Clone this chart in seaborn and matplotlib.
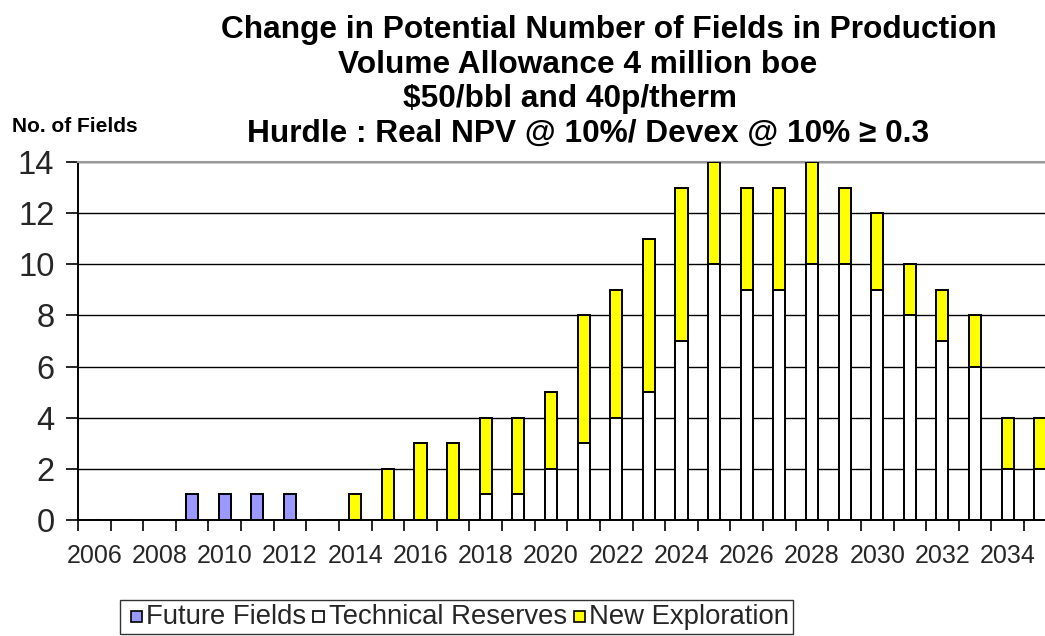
import matplotlib
matplotlib.use("Agg")
import matplotlib.pyplot as plt
from matplotlib.patches import Patch, Rectangle
from matplotlib.legend_handler import HandlerPatch
import numpy as np
import pandas as pd
import seaborn as sns

# Fields in production per year, by source
years = list(range(2006, 2036))
future_fields = [0, 0, 0, 1, 1, 1, 1, 0, 0, 0, 0, 0, 0, 0, 0,
                 0, 0, 0, 0, 0, 0, 0, 0, 0, 0, 0, 0, 0, 0, 0]
technical_reserves = [0, 0, 0, 0, 0, 0, 0, 0, 0, 0, 0, 0, 1, 1, 2,
                      3, 4, 5, 7, 10, 9, 9, 10, 10, 9, 8, 7, 6, 2, 2]
new_exploration = [0, 0, 0, 0, 0, 0, 0, 0, 1, 2, 3, 3, 3, 3, 3,
                   5, 5, 6, 6, 4, 4, 4, 4, 3, 3, 2, 2, 2, 2, 2]

title_lines = [
    "Change in Potential Number of Fields in Production",
    "Volume Allowance 4 million boe",
    "$50/bbl and 40p/therm",
    "Hurdle : Real NPV @ 10%/ Devex @ 10% \u2265 0.3",
]
y_ticks = [0, 2, 4, 6, 8, 10, 12, 14]

sns.set_theme(style="white")
plt.rcParams["font.family"] = ["Liberation Sans", "DejaVu Sans"]

df = pd.DataFrame({
    "year": [str(y) for y in years],
    "ff": future_fields,
    "tr": technical_reserves,
    "ne": new_exploration,
})
df["lower"] = df["ff"] + df["tr"]
df["total"] = df["lower"] + df["ne"]

W, H = 1045, 636
fig = plt.figure(figsize=(W / 100, H / 100), dpi=100)
ax_left, ax_right = 78, 1056.6
ax_top, ax_bottom = 162, 520
ax = fig.add_axes([ax_left / W, 1 - ax_bottom / H,
                   (ax_right - ax_left) / W, (ax_bottom - ax_top) / H])

bar_kw = dict(edgecolor="black", linewidth=1.4, width=0.37, ax=ax,
              order=df["year"].tolist(), zorder=3, saturation=1)
# Stack built by layering: full total (yellow), then lower part, then future fields
sns.barplot(data=df, x="year", y="total", color="#FFFF00", **bar_kw)
sns.barplot(data=df, x="year", y="lower", color="white", **bar_kw)
sns.barplot(data=df, x="year", y="ff", color="#9999FF", **bar_kw)

ax.set_xlim(-0.5, len(years) - 0.5)
ax.set_ylim(0, 14)
ax.set_xlabel("")
ax.set_ylabel("")

# Category boundaries carry the tick marks; labels sit at every other category centre
ax.set_xticks(np.arange(-0.5, len(years), 1.0))
ax.set_xticklabels([])
ax.tick_params(axis="x", which="major", length=8, width=1.2, color="black",
               direction="out", bottom=True)
ax.set_xticks(np.arange(0, len(years), 2), minor=True)
ax.set_xticklabels([str(y) for y in years[::2]], minor=True, fontsize=18)
ax.tick_params(axis="x", which="minor", length=0, pad=17)

ax.set_yticks(y_ticks)
ax.set_yticklabels([str(v) for v in y_ticks], fontsize=23.5)
ax.tick_params(axis="y", length=9, width=1.2, color="black", direction="out",
               left=True, pad=8)

ax.yaxis.grid(True, color="black", linewidth=1.0, zorder=0)
ax.set_axisbelow(True)
for s in ["left", "bottom"]:
    ax.spines[s].set_color("black")
    ax.spines[s].set_linewidth(1.4)
ax.spines["top"].set_color("#999999")
ax.spines["top"].set_linewidth(1.5)
ax.spines["right"].set_visible(False)

# Title, one line at a time
centres = [609, 578, 570, 588]
baselines = [38, 73, 107, 142]
for line, cx, by in zip(title_lines, centres, baselines):
    fig.text(cx / W, 1 - by / H, line, ha="center", va="baseline",
             fontsize=22.8, fontweight="bold", color="black")

fig.text(12 / W, 1 - 132 / H, "No. of Fields", ha="left", va="baseline",
         fontsize=15, fontweight="bold", color="black")


def square_key(legend, orig_handle, xdescent, ydescent, width, height, fontsize):
    # small square key, pushed to the right end of the handle box
    side = 0.4 * fontsize
    return Rectangle((-xdescent + width - side, 0.08 * fontsize), side, side)


handles = [
    Patch(facecolor="#9999FF", edgecolor="black", linewidth=1.2, label="Future Fields"),
    Patch(facecolor="white", edgecolor="black", linewidth=1.2, label="Technical Reserves"),
    Patch(facecolor="#FFFF00", edgecolor="black", linewidth=1.2, label="New Exploration"),
]
leg = fig.legend(handles=handles, loc="lower left",
                 bbox_to_anchor=(120 / W, 1 - 634 / H), ncol=3, fontsize=19.8,
                 frameon=True, fancybox=False, shadow=False, handlelength=0.66,
                 handleheight=0.7, handletextpad=0.15, columnspacing=0.0,
                 borderpad=0.14, borderaxespad=0,
                 handler_map={Patch: HandlerPatch(patch_func=square_key)})
leg.get_frame().set_edgecolor("black")
leg.get_frame().set_linewidth(1.0)

fig.savefig("out.png", dpi=100, facecolor="white")
